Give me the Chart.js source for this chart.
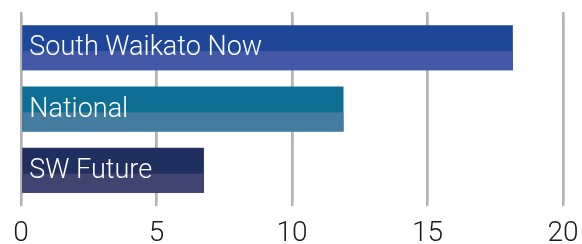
<!DOCTYPE html>
<html>
<head>
<meta charset="utf-8">
<script src="https://cdn.jsdelivr.net/npm/chart.js@4"></script>
<style>
    html, body { margin: 0; padding: 0; background: #fff; }
    #wrap { width: 582px; height: 244px; }
</style>
</head>
<body>
<div id="wrap"><canvas id="chart"></canvas></div>
<script>
    // Chart data
    const categories = ['South Waikato Now', 'National', 'SW Future'];
    const values = [18.15, 11.9, 6.75];
    const tickValues = [0, 5, 10, 15, 20];

    // top / bottom shades for each bar
    const darkColors = ['#1f4799', '#0e6e93', '#1f2f5f'];
    const lightColors = ['#4358a6', '#437c9e', '#3f4470'];

    const FONT = 'Roboto, "Open Sans", sans-serif';
    const gridColor = '#b3b3b6';

    // lighter lower part of each bar, then the category name inside it
    const barDecor = {
        id: 'barDecor',
        afterDatasetsDraw(chart) {
            const ctx = chart.ctx;
            const meta = chart.getDatasetMeta(0);
            ctx.save();
            meta.data.forEach((bar, i) => {
                const top = bar.y - bar.height / 2;
                const split = top + bar.height * 0.575;
                const left = Math.min(bar.base, bar.x);
                ctx.fillStyle = lightColors[i];
                ctx.fillRect(left, split, Math.abs(bar.x - bar.base), bar.y + bar.height / 2 - split);
            });
            ctx.fillStyle = '#ffffff';
            ctx.font = '300 27px ' + FONT;
            ctx.textAlign = 'left';
            ctx.textBaseline = 'alphabetic';
            meta.data.forEach((bar, i) => {
                ctx.fillText(categories[i], bar.base + 7, bar.y + 7.5);
            });
            ctx.restore();
        }
    };

    function noSidePadding(scale) {
        scale.paddingLeft = 0;
        scale.paddingRight = 0;
    }

    new Chart(document.getElementById('chart'), {
        type: 'bar',
        data: {
            labels: categories,
            datasets: [{
                data: values,
                backgroundColor: darkColors,
                borderWidth: 0,
                categoryPercentage: 0.734,
                barPercentage: 1
            }]
        },
        options: {
            indexAxis: 'y',
            responsive: true,
            maintainAspectRatio: false,
            animation: false,
            devicePixelRatio: 1,
            layout: { padding: { left: 21, right: 19, top: 12, bottom: 0 } },
            plugins: {
                legend: { display: false },
                tooltip: { enabled: false }
            },
            scales: {
                x: {
                    min: 0,
                    max: 20,
                    afterBuildTicks: axis => { axis.ticks = tickValues.map(v => ({ value: v })); },
                    afterFit: scale => {
                        noSidePadding(scale);
                        scale.height = 43;
                    },
                    border: { display: false },
                    grid: { color: gridColor, lineWidth: 2.5, drawTicks: true, tickLength: 5, tickColor: gridColor },
                    ticks: {
                        color: '#1a1a1a',
                        padding: 15,
                        font: { family: FONT, size: 28, weight: '300', lineHeight: 0.893 },
                        maxRotation: 0
                    }
                },
                x2: {
                    position: 'top',
                    min: 0,
                    max: 20,
                    afterBuildTicks: axis => { axis.ticks = tickValues.map(v => ({ value: v })); },
                    afterFit: noSidePadding,
                    border: { display: false },
                    grid: { color: gridColor, lineWidth: 2.5, drawTicks: true, tickLength: 5, tickColor: gridColor },
                    ticks: { display: false }
                },
                y: {
                    display: false
                }
            }
        },
        plugins: [barDecor]
    });
</script>
</body>
</html>
